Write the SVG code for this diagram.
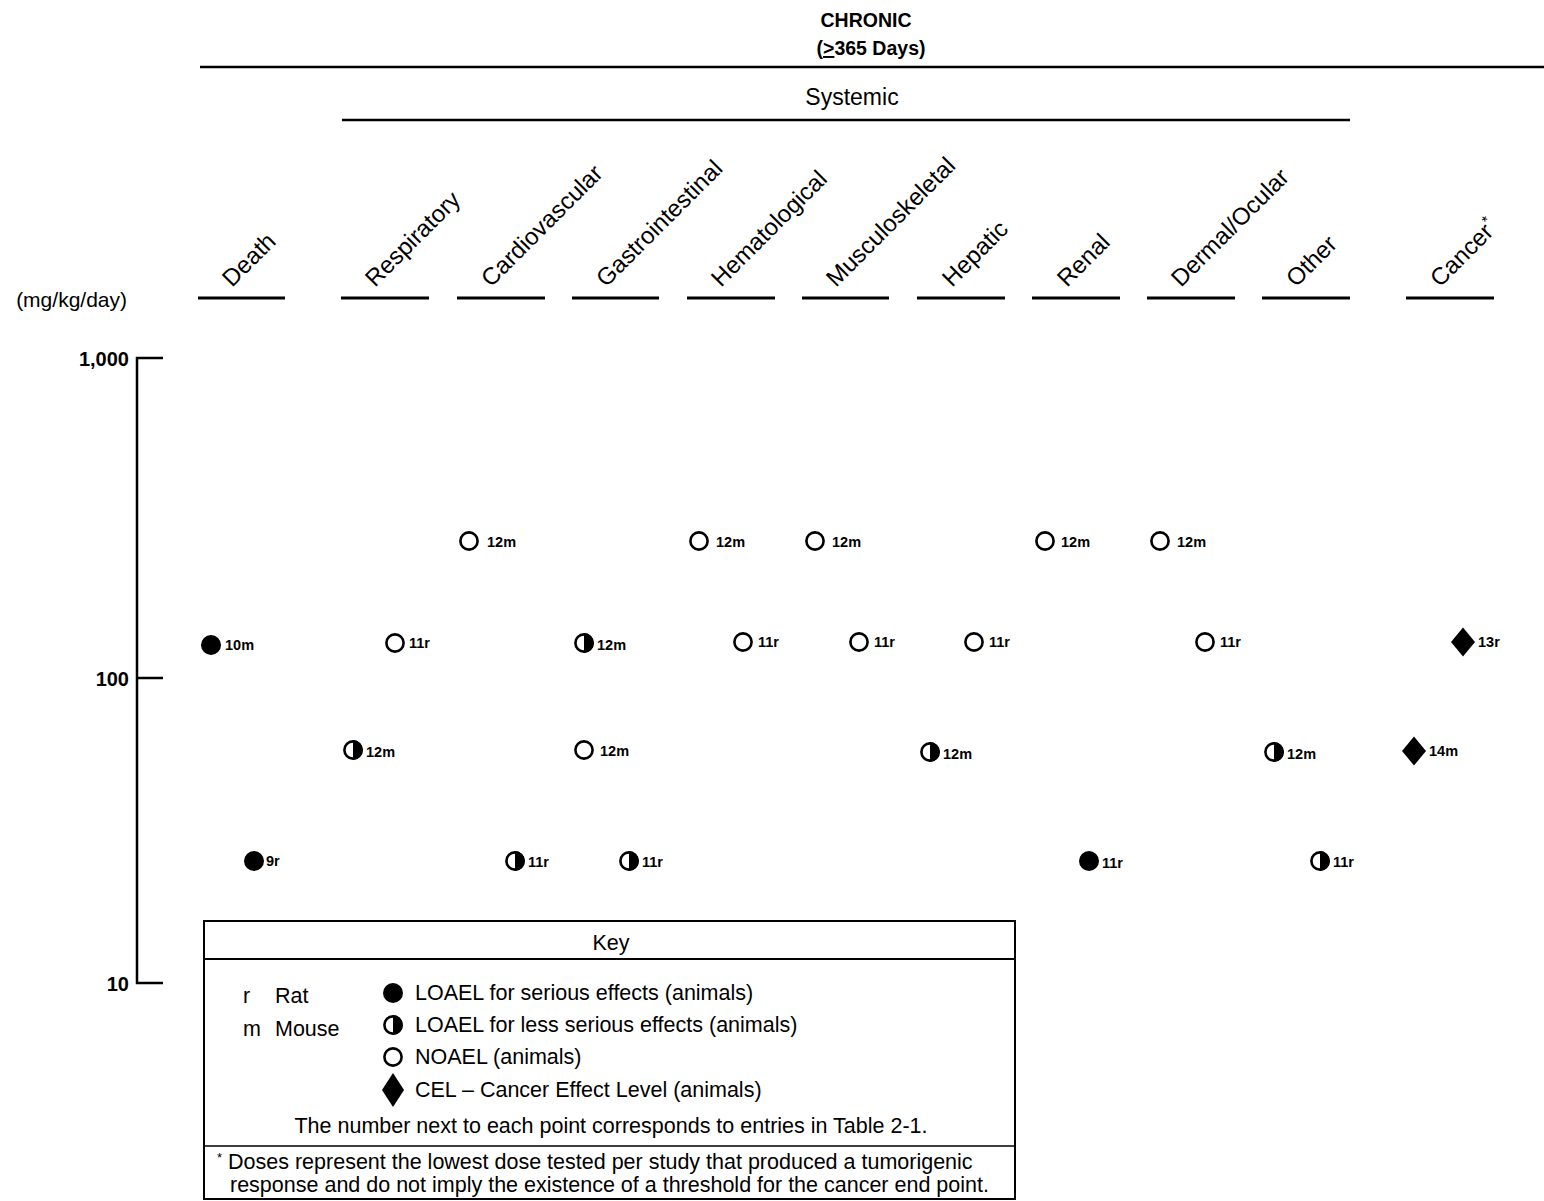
<svg xmlns="http://www.w3.org/2000/svg" width="1544" height="1201" viewBox="0 0 1544 1201">
<style>
text{font-family:"Liberation Sans",Arial,sans-serif;fill:#000}
.title{font-size:19.5px;font-weight:bold}
.sys{font-size:23px}
.col{font-size:24px}
.tick{font-size:20px;font-weight:bold}
.unit{font-size:21px}
.pl{font-size:14.5px;font-weight:bold}
.key{font-size:21.5px}
.rule{stroke:#000;stroke-width:2.5;fill:none}
.under{stroke:#000;stroke-width:3}
</style>
<defs>
<g id="mFilled"><circle r="10" fill="#000"/></g>
<g id="mOpen"><circle r="8.6" fill="#fff" stroke="#000" stroke-width="2.6"/></g>
<g id="mHalf"><circle r="8.6" fill="#fff" stroke="#000" stroke-width="2.6"/><path d="M0,-9.9 A9.9,9.9 0 0 1 0,9.9 Z" fill="#000"/></g>
<g id="mDiamond"><polygon points="0,-14.5 12,0 0,14.5 -12,0" fill="#000"/></g>
</defs>

<g id="header">
<text class="title" x="866" y="27" text-anchor="middle">CHRONIC</text>
<text class="title" x="871" y="55" text-anchor="middle">(<tspan text-decoration="underline">&gt;</tspan>365 Days)</text>
<line class="rule" x1="200" y1="67" x2="1544" y2="67"/>
<text class="sys" x="852" y="105" text-anchor="middle">Systemic</text>
<line class="rule" x1="342" y1="120" x2="1350" y2="120"/>
</g>

<g id="columns">
<g id="col-death"><text class="col" transform="translate(232,288) rotate(-45)">Death</text><line class="under" x1="198" y1="298" x2="285" y2="298"/></g>
<g id="col-respiratory"><text class="col" transform="translate(375,288) rotate(-45)">Respiratory</text><line class="under" x1="341" y1="298" x2="429" y2="298"/></g>
<g id="col-cardiovascular"><text class="col" transform="translate(491,288) rotate(-45)">Cardiovascular</text><line class="under" x1="457" y1="298" x2="545" y2="298"/></g>
<g id="col-gastrointestinal"><text class="col" transform="translate(606,288) rotate(-45)">Gastrointestinal</text><line class="under" x1="572" y1="298" x2="659" y2="298"/></g>
<g id="col-hematological"><text class="col" transform="translate(721,288) rotate(-45)">Hematological</text><line class="under" x1="687" y1="298" x2="775" y2="298"/></g>
<g id="col-musculoskeletal"><text class="col" transform="translate(836,288) rotate(-45)">Musculoskeletal</text><line class="under" x1="802" y1="298" x2="889" y2="298"/></g>
<g id="col-hepatic"><text class="col" transform="translate(952,288) rotate(-45)">Hepatic</text><line class="under" x1="917" y1="298" x2="1005" y2="298"/></g>
<g id="col-renal"><text class="col" transform="translate(1067,288) rotate(-45)">Renal</text><line class="under" x1="1032" y1="298" x2="1120" y2="298"/></g>
<g id="col-dermal"><text class="col" transform="translate(1181,288) rotate(-45)">Dermal/Ocular</text><line class="under" x1="1147" y1="298" x2="1235" y2="298"/></g>
<g id="col-other"><text class="col" transform="translate(1296,288) rotate(-45)">Other</text><line class="under" x1="1262" y1="298" x2="1350" y2="298"/></g>
<g id="col-cancer"><text class="col" transform="translate(1440,288) rotate(-45)">Cancer<tspan font-size="15" dy="-10">*</tspan></text><line class="under" x1="1406" y1="298" x2="1494" y2="298"/></g>
</g>

<g id="axis">
<text class="unit" x="127" y="307" text-anchor="end">(mg/kg/day)</text>
<path class="rule" d="M163,358 H137 V983 H163 M137,678 H163"/>
<text class="tick" x="129" y="366" text-anchor="end">1,000</text>
<text class="tick" x="129" y="686" text-anchor="end">100</text>
<text class="tick" x="129" y="991" text-anchor="end">10</text>
</g>

<g id="points">
<g id="p-death-10m"><use href="#mFilled" x="211" y="645"/><text class="pl" x="225" y="650">10m</text></g>
<g id="p-death-9r"><use href="#mFilled" x="254" y="861"/><text class="pl" x="266" y="866">9r</text></g>
<g id="p-resp-11r"><use href="#mOpen" x="395" y="643"/><text class="pl" x="409" y="648">11r</text></g>
<g id="p-resp-12m"><use href="#mHalf" x="353" y="750"/><text class="pl" x="366" y="757">12m</text></g>
<g id="p-cardio-12m"><use href="#mOpen" x="469" y="541"/><text class="pl" x="487" y="547">12m</text></g>
<g id="p-cardio-11r"><use href="#mHalf" x="515" y="861"/><text class="pl" x="528" y="867">11r</text></g>
<g id="p-gi-12m-a"><use href="#mHalf" x="584" y="643"/><text class="pl" x="597" y="650">12m</text></g>
<g id="p-gi-12m-b"><use href="#mOpen" x="584" y="750"/><text class="pl" x="600" y="756">12m</text></g>
<g id="p-gi-11r"><use href="#mHalf" x="629" y="861"/><text class="pl" x="642" y="867">11r</text></g>
<g id="p-hema-12m"><use href="#mOpen" x="699" y="541"/><text class="pl" x="716" y="547">12m</text></g>
<g id="p-hema-11r"><use href="#mOpen" x="743" y="642"/><text class="pl" x="758" y="647">11r</text></g>
<g id="p-musc-12m"><use href="#mOpen" x="815" y="541"/><text class="pl" x="832" y="547">12m</text></g>
<g id="p-musc-11r"><use href="#mOpen" x="859" y="642"/><text class="pl" x="874" y="647">11r</text></g>
<g id="p-hep-11r"><use href="#mOpen" x="974" y="642"/><text class="pl" x="989" y="647">11r</text></g>
<g id="p-hep-12m"><use href="#mHalf" x="930" y="752"/><text class="pl" x="943" y="759">12m</text></g>
<g id="p-renal-12m"><use href="#mOpen" x="1045" y="541"/><text class="pl" x="1061" y="547">12m</text></g>
<g id="p-renal-11r"><use href="#mFilled" x="1089" y="861"/><text class="pl" x="1102" y="868">11r</text></g>
<g id="p-derm-12m"><use href="#mOpen" x="1160" y="541"/><text class="pl" x="1177" y="547">12m</text></g>
<g id="p-derm-11r"><use href="#mOpen" x="1205" y="642"/><text class="pl" x="1220" y="647">11r</text></g>
<g id="p-other-12m"><use href="#mHalf" x="1274" y="752"/><text class="pl" x="1287" y="759">12m</text></g>
<g id="p-other-11r"><use href="#mHalf" x="1320" y="861"/><text class="pl" x="1333" y="867">11r</text></g>
<g id="p-cancer-13r"><use href="#mDiamond" x="1463" y="642"/><text class="pl" x="1478" y="647">13r</text></g>
<g id="p-cancer-14m"><use href="#mDiamond" x="1414" y="751"/><text class="pl" x="1429" y="756">14m</text></g>
</g>

<g id="key">
<rect x="204" y="921" width="811" height="278" fill="#fff" stroke="#000" stroke-width="2"/>
<text class="key" x="611" y="950" text-anchor="middle" font-size="24">Key</text>
<line x1="204" y1="959" x2="1015" y2="959" stroke="#000" stroke-width="2"/>
<text class="key" x="243" y="1003">r</text><text class="key" x="275" y="1003">Rat</text>
<text class="key" x="243" y="1036">m</text><text class="key" x="275" y="1036">Mouse</text>
<use href="#mFilled" x="393" y="993"/><text class="key" x="415" y="1000">LOAEL for serious effects (animals)</text>
<use href="#mHalf" x="393" y="1025"/><text class="key" x="415" y="1032">LOAEL for less serious effects (animals)</text>
<use href="#mOpen" x="393" y="1057"/><text class="key" x="415" y="1064">NOAEL (animals)</text>
<polygon points="393,1073 404,1090 393,1107 382,1090" fill="#000"/><text class="key" x="415" y="1097">CEL – Cancer Effect Level (animals)</text>
<text class="key" x="611" y="1133" text-anchor="middle">The number next to each point corresponds to entries in Table 2-1.</text>
<line x1="204" y1="1146" x2="1015" y2="1146" stroke="#000" stroke-width="1.5"/>
<text class="key" x="217" y="1169"><tspan font-size="13" dy="-7">*</tspan><tspan dy="7"> Doses represent the lowest dose tested per study that produced a tumorigenic</tspan></text>
<text class="key" x="230" y="1192">response and do not imply the existence of a threshold for the cancer end point.</text>
</g>
</svg>
